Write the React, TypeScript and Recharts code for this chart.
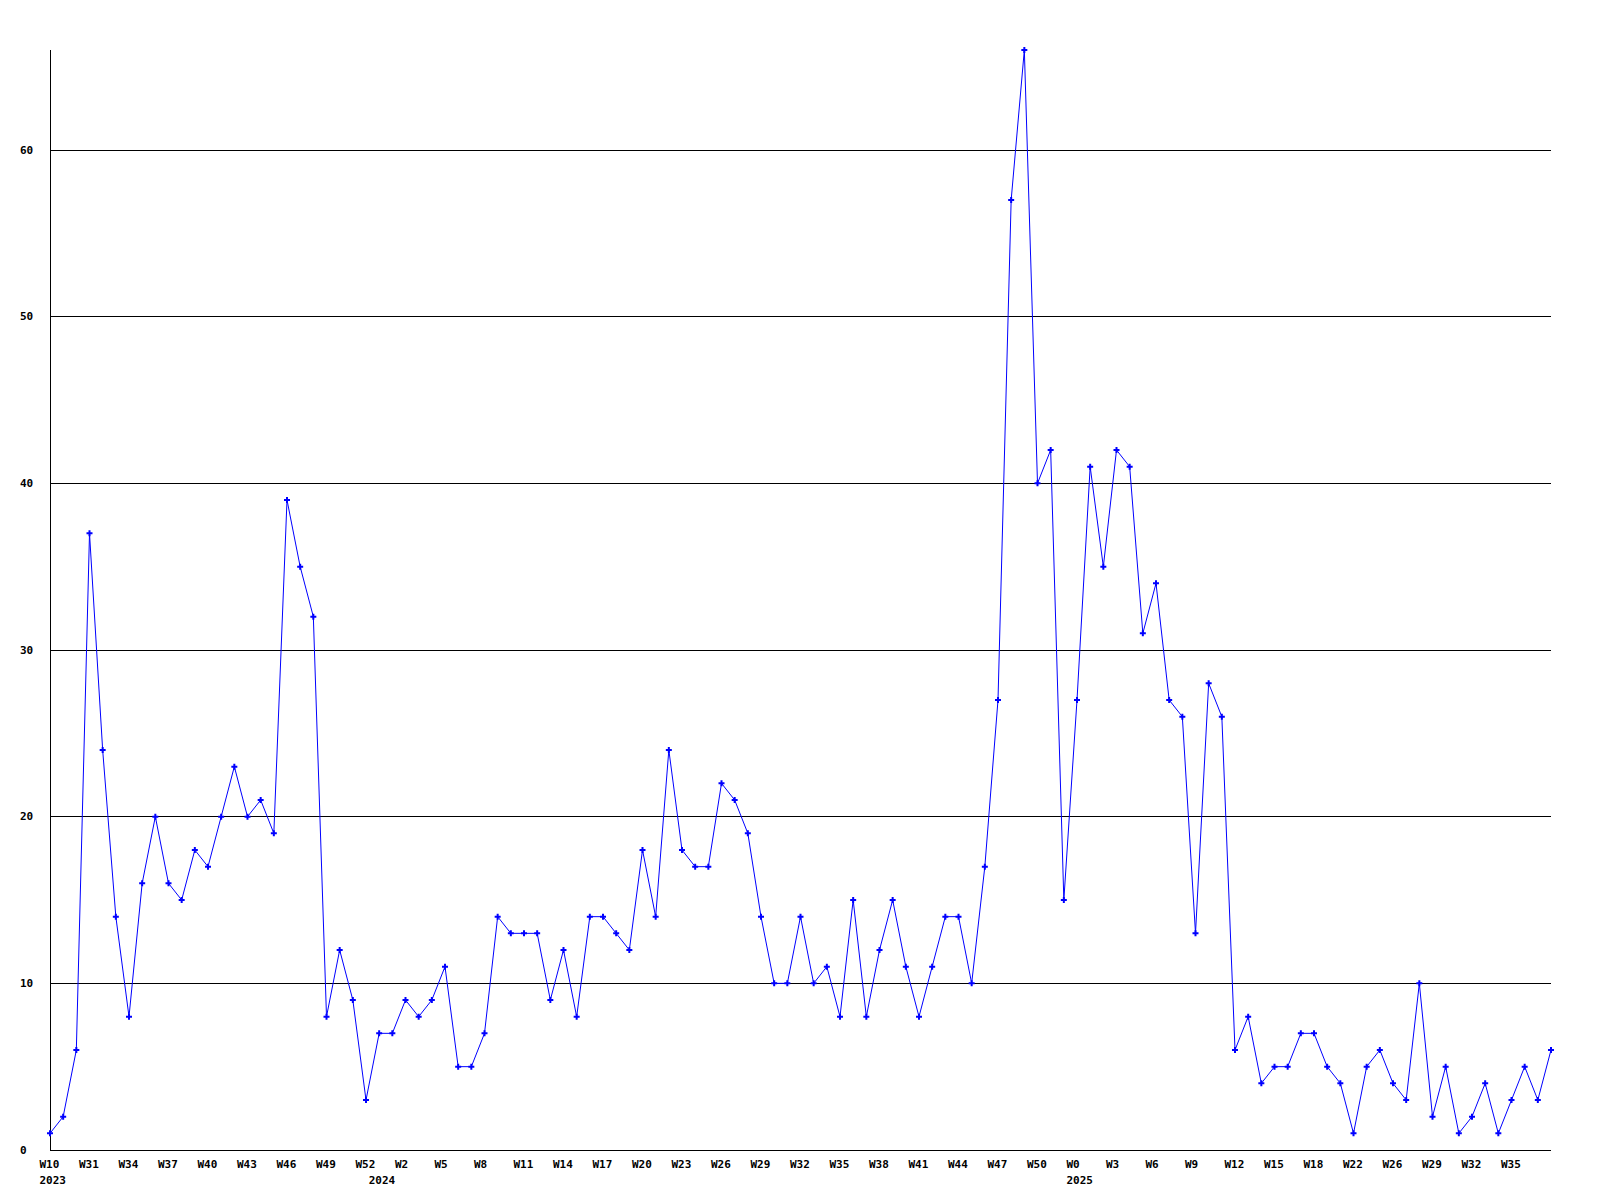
import { Line, LineChart, ReferenceLine, XAxis, YAxis } from "recharts";

// weekly counts, 2023 W28 .. 2025 W37 (one point per week)
const COUNTS = [
  1, 2, 6, 37, 24, 14, 8, 16, 20, 16, 15, 18, 17, 20, 23, 20, 21, 19, 39, 35,
  32, 8, 12, 9, 3, 7, 7, 9, 8, 9, 11, 5, 5, 7, 14, 13, 13, 13, 9, 12,
  8, 14, 14, 13, 12, 18, 14, 24, 18, 17, 17, 22, 21, 19, 14, 10, 10, 14, 10, 11,
  8, 15, 8, 12, 15, 11, 8, 11, 14, 14, 10, 17, 27, 57, 66, 40, 42, 15, 27, 41,
  35, 42, 41, 31, 34, 27, 26, 13, 28, 26, 6, 8, 4, 5, 5, 7, 7, 5, 4, 1,
  5, 6, 4, 3, 10, 2, 5, 1, 2, 4, 1, 3, 5, 3, 6,
];

// one label every third week
const WEEK_LABELS = [
  "W10", "W31", "W34", "W37", "W40", "W43", "W46", "W49", "W52", "W2",
  "W5", "W8", "W11", "W14", "W17", "W20", "W23", "W26", "W29", "W32",
  "W35", "W38", "W41", "W44", "W47", "W50", "W0", "W3", "W6", "W9",
  "W12", "W15", "W18", "W22", "W26", "W29", "W32", "W35",
];

const YEAR_MARKS = [
  { at: 0, year: "2023" },
  { at: 25, year: "2024" },
  { at: 78, year: "2025" },
];

const Y_TICKS = [0, 10, 20, 30, 40, 50, 60];

const LABEL_SKIP = 3;
const FONT = "'DejaVu Sans Mono', monospace";

const data = COUNTS.map((count, i) => ({ week: i, count }));

function WeekTick({ x, y, payload }: { x: number; y: number; payload: { value: number } }) {
  const i = payload.value;
  const label = i % LABEL_SKIP === 0 ? WEEK_LABELS[i / LABEL_SKIP] : undefined;
  const year = YEAR_MARKS.find((m) => m.at === i)?.year;
  if (!label && !year) return null;
  return (
    <g>
      {label && (
        <text x={x - 10.5} y={y + 14} textAnchor="start" dominantBaseline="central" fontFamily={FONT} fontWeight="bold" fontSize={11} fill="#000">
          {label}
        </text>
      )}
      {year && (
        <text x={x - 10.5} y={y + 30} textAnchor="start" dominantBaseline="central" fontFamily={FONT} fontWeight="bold" fontSize={11} fill="#000">
          {year}
        </text>
      )}
    </g>
  );
}

function CountTick({ y, payload }: { y: number; payload: { value: number } }) {
  return (
    <text x={20} y={y} textAnchor="start" dominantBaseline="central" fontFamily={FONT} fontWeight="bold" fontSize={11} fill="#000">
      {payload.value}
    </text>
  );
}

function Marker({ cx, cy, index }: { cx?: number; cy?: number; index?: number }) {
  if (cx == null || cy == null) return <g key={index} />;
  const d = `M${cx - 3},${cy - 1}h2v-2h2v2h2v2h-2v2h-2v-2h-2z`;
  return <path key={index} d={d} fill="#0000ff" stroke="none" />;
}

export default function App() {
  return (
    <div style={{ position: "absolute", left: 0, top: 0, width: 1600, height: 1200, background: "#fff" }}>
      <LineChart width={1600} height={1200} data={data} margin={{ top: 50, right: 49, bottom: 0, left: 0 }}>
        {Y_TICKS.filter((t) => t > 0).map((t) => (
          <ReferenceLine key={t} y={t} stroke="#000" strokeWidth={1} shapeRendering="crispEdges" />
        ))}
        <XAxis
          dataKey="week"
          type="category"
          interval={0}
          height={50}
          tick={WeekTick}
          tickLine={false}
          tickSize={0}
          tickMargin={0}
          axisLine={{ stroke: "#000", shapeRendering: "crispEdges" }}
        />
        <YAxis
          domain={[0, 66]}
          ticks={Y_TICKS}
          width={50}
          tick={CountTick}
          tickLine={false}
          axisLine={{ stroke: "#000", shapeRendering: "crispEdges" }}
        />
        <Line
          dataKey="count"
          type="linear"
          stroke="#0000ff"
          strokeWidth={1}
          dot={Marker}
          activeDot={false}
          isAnimationActive={false}
        />
      </LineChart>
    </div>
  );
}
